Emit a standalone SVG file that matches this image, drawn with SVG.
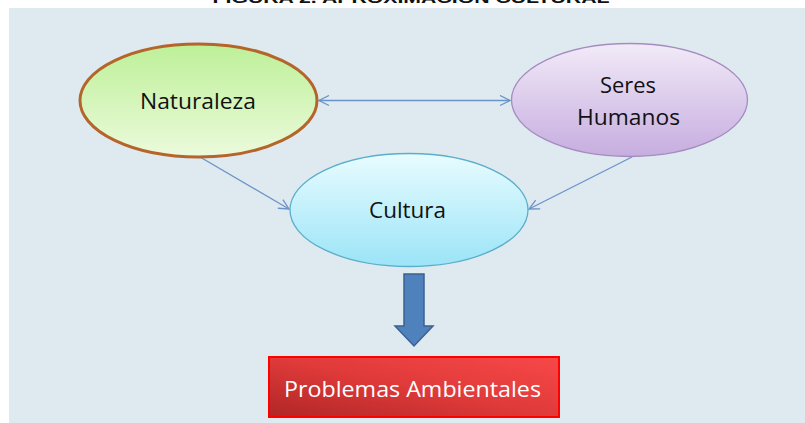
<svg xmlns="http://www.w3.org/2000/svg" width="805" height="423" viewBox="0 0 805 423">
<style>
.lbl{font-family:"Open Sans","Noto Sans","Liberation Sans",sans-serif;font-size:22px;fill:#111;text-anchor:middle}
.con{stroke:#6a93c8;stroke-width:1.3;fill:none}
</style>
<defs>
<linearGradient id="gN" x1="0" y1="0" x2="0" y2="1"><stop offset="0" stop-color="#bdf098"/><stop offset="1" stop-color="#ecfadc"/></linearGradient>
<linearGradient id="gS" x1="0" y1="0" x2="0" y2="1"><stop offset="0" stop-color="#f2eaf8"/><stop offset="1" stop-color="#c6addf"/></linearGradient>
<linearGradient id="gC" x1="0" y1="0" x2="0" y2="1"><stop offset="0" stop-color="#e8fcff"/><stop offset="1" stop-color="#9be4f7"/></linearGradient>
<linearGradient id="gR" x1="0" y1="1" x2="1" y2="0"><stop offset="0" stop-color="#b02626"/><stop offset="0.5" stop-color="#e03a3a"/><stop offset="1" stop-color="#f84848"/></linearGradient>
<marker id="ah" viewBox="0 0 12 12" refX="11" refY="6" markerWidth="12" markerHeight="12" markerUnits="userSpaceOnUse" orient="auto-start-reverse">
<path d="M1,1 L11,6 L1,11" fill="none" stroke="#6a93c8" stroke-width="1.3"/>
</marker>
</defs>
<rect x="0" y="0" width="805" height="423" fill="#ffffff"/>
<rect x="9" y="8" width="796" height="415" fill="#dfeaf0"/>
<text x="411" y="3" font-family="Liberation Sans,Arial,sans-serif" font-weight="bold" font-size="15" text-anchor="middle" textLength="397" lengthAdjust="spacingAndGlyphs" fill="#111">FIGURA 2. APROXIMACIÓN CULTURAL</text>
<g id="connectors">
<line class="con" x1="319" y1="100.5" x2="510" y2="100.5" marker-start="url(#ah)" marker-end="url(#ah)"/>
<line class="con" x1="200" y1="157" x2="289" y2="209" marker-end="url(#ah)"/>
<line class="con" x1="632" y1="157" x2="529" y2="209" marker-end="url(#ah)"/>
<path d="M404,274 H424 V326 H433 L414,346 L395,326 H404 Z" fill="#4f81bd" stroke="#3a6190" stroke-width="1.5"/>
</g>
<g id="naturaleza">
<ellipse cx="198.5" cy="100.5" rx="118.5" ry="56.5" fill="url(#gN)" stroke="#b5652a" stroke-width="3"/>
<text class="lbl" x="198" y="109" textLength="116" lengthAdjust="spacingAndGlyphs">Naturaleza</text>
</g>
<g id="seres-humanos">
<ellipse cx="629.5" cy="100" rx="118" ry="56.5" fill="url(#gS)" stroke="#a58cc0" stroke-width="1.3"/>
<text class="lbl" x="628" y="93" textLength="56" lengthAdjust="spacingAndGlyphs">Seres</text>
<text class="lbl" x="628.5" y="125" textLength="103" lengthAdjust="spacingAndGlyphs">Humanos</text>
</g>
<g id="cultura">
<ellipse cx="409" cy="210" rx="119" ry="56.5" fill="url(#gC)" stroke="#5aaecb" stroke-width="1.3"/>
<text class="lbl" x="407.5" y="218" textLength="77" lengthAdjust="spacingAndGlyphs">Cultura</text>
</g>
<g id="problemas-ambientales">
<rect x="269" y="357" width="290" height="60" fill="url(#gR)" stroke="#ff0000" stroke-width="2"/>
<text class="lbl" x="412.5" y="397" fill="#ffffff" style="fill:#ffffff" textLength="257" lengthAdjust="spacingAndGlyphs">Problemas Ambientales</text>
</g>
</svg>
